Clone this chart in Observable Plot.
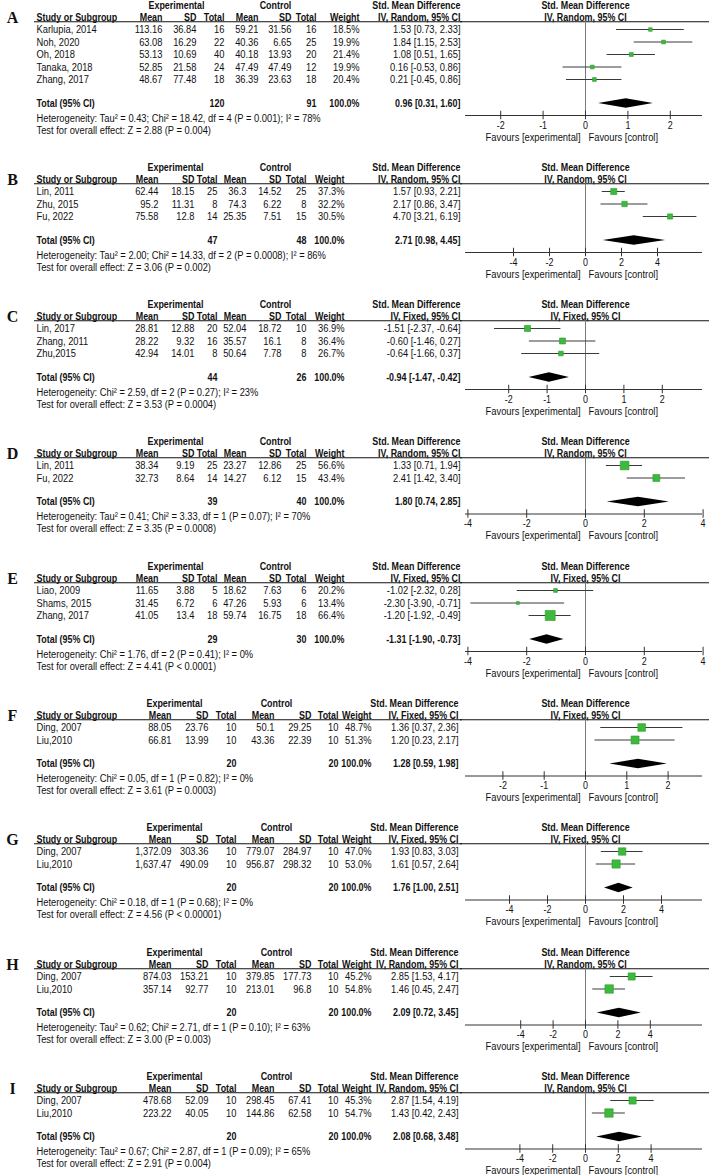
<!DOCTYPE html>
<html><head><meta charset="utf-8">
<script src="https://cdn.jsdelivr.net/npm/d3@7"></script>
<script src="https://cdn.jsdelivr.net/npm/@observablehq/plot@0.6"></script>
<style>
html,body{margin:0;padding:0;background:#fff;}
#page{position:relative;width:709px;height:1175px;overflow:hidden;background:#fff;}
.panel{position:absolute;left:0;width:709px;}
.panel svg{position:absolute;top:0;overflow:visible;}
</style></head><body><div id="page"></div>
<script>
// ---------------- DATA ----------------
const panelLetters = ["A","B","C","D","E","F","G","H","I"];
const panelModel = ["Random","Random","Fixed","Random","Fixed","Fixed","Fixed","Random","Random"];
const panelExpTotal = [120,47,44,39,29,20,20,20,20];
const panelCtlTotal = [91,48,26,40,30,20,20,20,20];
const panelEst = [0.96,2.71,-0.94,1.80,-1.31,1.28,1.76,2.09,2.08];
const panelLo  = [0.31,0.98,-1.47,0.74,-1.90,0.59,1.00,0.72,0.68];
const panelHi  = [1.60,4.45,-0.42,2.85,-0.73,1.98,2.51,3.45,3.48];
const panelHeterogeneity = [
  "Heterogeneity: Tau² = 0.43; Chi² = 18.42, df = 4 (P = 0.001); I² = 78%",
  "Heterogeneity: Tau² = 2.00; Chi² = 14.33, df = 2 (P = 0.0008); I² = 86%",
  "Heterogeneity: Chi² = 2.59, df = 2 (P = 0.27); I² = 23%",
  "Heterogeneity: Tau² = 0.41; Chi² = 3.33, df = 1 (P = 0.07); I² = 70%",
  "Heterogeneity: Chi² = 1.76, df = 2 (P = 0.41); I² = 0%",
  "Heterogeneity: Chi² = 0.05, df = 1 (P = 0.82); I² = 0%",
  "Heterogeneity: Chi² = 0.18, df = 1 (P = 0.68); I² = 0%",
  "Heterogeneity: Tau² = 0.62; Chi² = 2.71, df = 1 (P = 0.10); I² = 63%",
  "Heterogeneity: Tau² = 0.67; Chi² = 2.87, df = 1 (P = 0.09); I² = 65%"
];
const panelTest = [
  "Test for overall effect: Z = 2.88 (P = 0.004)",
  "Test for overall effect: Z = 3.06 (P = 0.002)",
  "Test for overall effect: Z = 3.53 (P = 0.0004)",
  "Test for overall effect: Z = 3.35 (P = 0.0008)",
  "Test for overall effect: Z = 4.41 (P < 0.0001)",
  "Test for overall effect: Z = 3.61 (P = 0.0003)",
  "Test for overall effect: Z = 4.56 (P < 0.00001)",
  "Test for overall effect: Z = 3.00 (P = 0.003)",
  "Test for overall effect: Z = 2.91 (P = 0.004)"
];
const ticksUnit1 = [-2,-1,0,1,2];
const ticksUnit2 = [-4,-2,0,2,4];
const panelTicks = [ticksUnit1,ticksUnit2,ticksUnit1,ticksUnit2,ticksUnit2,ticksUnit1,ticksUnit2,ticksUnit2,ticksUnit2];

const studyPanel = ["A","A","A","A","A","B","B","B","C","C","C","D","D","E","E","E","F","F","G","G","H","H","I","I"];
const studyName = ["Karlupia, 2014","Noh, 2020","Oh, 2018","Tanaka, 2018","Zhang, 2017",
  "Lin, 2011","Zhu, 2015","Fu, 2022",
  "Lin, 2017","Zhang, 2011","Zhu,2015",
  "Lin, 2011","Fu, 2022",
  "Liao, 2009","Shams, 2015","Zhang, 2017",
  "Ding, 2007","Liu,2010",
  "Ding, 2007","Liu,2010",
  "Ding, 2007","Liu,2010",
  "Ding, 2007","Liu,2010"];
const expMean = [113.16,63.08,53.13,52.85,48.67, 62.44,95.2,75.58, 28.81,28.22,42.94, 38.34,32.73, 11.65,31.45,41.05, 88.05,66.81, 1372.09,1637.47, 874.03,357.14, 478.68,223.22];
const expSD   = [36.84,16.29,10.69,21.58,77.48, 18.15,11.31,12.8, 12.88,9.32,14.01, 9.19,8.64, 3.88,6.72,13.4, 23.76,13.99, 303.36,490.09, 153.21,92.77, 52.09,40.05];
const expN    = [16,22,40,24,18, 25,8,14, 20,16,8, 25,14, 5,6,18, 10,10, 10,10, 10,10, 10,10];
const ctlMean = [59.21,40.36,40.18,47.49,36.39, 36.3,74.3,25.35, 52.04,35.57,50.64, 23.27,14.27, 18.62,47.26,59.74, 50.1,43.36, 779.07,956.87, 379.85,213.01, 298.45,144.86];
const ctlSD   = [31.56,6.65,13.93,47.49,23.63, 14.52,6.22,7.51, 18.72,16.1,7.78, 12.86,6.12, 7.63,5.93,16.75, 29.25,22.39, 284.97,298.32, 177.73,96.8, 67.41,62.58];
const ctlN    = [16,25,20,12,18, 25,8,15, 10,8,8, 25,15, 6,6,18, 10,10, 10,10, 10,10, 10,10];
const weight  = [18.5,19.9,21.4,19.9,20.4, 37.3,32.2,30.5, 36.9,36.4,26.7, 56.6,43.4, 20.2,13.4,66.4, 48.7,51.3, 47.0,53.0, 45.2,54.8, 45.3,54.7];
const smd     = [1.53,1.84,1.08,0.16,0.21, 1.57,2.17,4.70, -1.51,-0.60,-0.64, 1.33,2.41, -1.02,-2.30,-1.20, 1.36,1.20, 1.93,1.61, 2.85,1.46, 2.87,1.43];
const smdLo   = [0.73,1.15,0.51,-0.53,-0.45, 0.93,0.86,3.21, -2.37,-1.46,-1.66, 0.71,1.42, -2.32,-3.90,-1.92, 0.37,0.23, 0.83,0.57, 1.53,0.45, 1.54,0.42];
const smdHi   = [2.33,2.53,1.65,0.86,0.86, 2.21,3.47,6.19, -0.64,0.27,0.37, 1.94,3.40, 0.28,-0.71,-0.49, 2.36,2.17, 3.03,2.64, 4.17,2.47, 4.19,2.43];

// ---------------- LAYOUT / STYLE ----------------
const FONT = '"Liberation Sans Narrow","Arial Narrow","Liberation Sans",Arial,sans-serif';
const SERIF = '"Liberation Serif","Times New Roman",serif';
const NARROW = 0.85; // horizontal glyph compression to mimic Arial Narrow
const colLayouts = {
  a: {study:36, eMean:162, eSD:196, eTot:224, cMean:258, cSD:291, cTot:316, weight:359, ci:460, expHdr:176, ctlHdr:275},
  b: {study:36, eMean:158, eSD:194, eTot:217, cMean:246, cSD:281, cTot:306, weight:344, ci:460, expHdr:175, ctlHdr:275},
  w: {study:36, eMean:171, eSD:208, eTot:236, cMean:274, cSD:311, cTot:338, weight:371, ci:458, expHdr:174, ctlHdr:276}
};
const panelLayout = ["a","b","b","b","b","w","w","w","w"];
const panelPxPerUnit = [42.4,18.0,38.4,29.4,29.4,41.3,19.0,16.2,16.4];
const zeroX = 585, axisLeft = 465, axisRight = 702, forestLeft = 460, forestWidth = 249;
const rowPx = 12.5;
const green = "#3dba3d";
const boldSize = 10.5;

const fmt = d3.format(",");
const fmtCI = (e, l, h) => `${e.toFixed(2)} [${l.toFixed(2)}, ${h.toFixed(2)}]`;
const fmtW = w => w.toFixed(1) + "%";

const studies = studyName.map((name, i) => ({
  panel: studyPanel[i], name, eM: expMean[i], eS: expSD[i], eN: expN[i],
  cM: ctlMean[i], cS: ctlSD[i], cN: ctlN[i], w: weight[i],
  est: smd[i], lo: smdLo[i], hi: smdHi[i]
}));

function narrowText(svg) {
  svg.querySelectorAll("text").forEach(t => {
    const g = t.closest("g[font-family]");
    if (g && /Serif/.test(g.getAttribute("font-family"))) return;
    const tr = t.getAttribute("transform") || "";
    t.setAttribute("transform", tr + ` scale(${NARROW},1)`);
  });
}

const page = document.getElementById("page");
let y0 = 5;

panelLetters.forEach((L, p) => {
  const rows = studies.filter(s => s.panel === L).map((s, i) => ({...s, row: i}));
  const n = rows.length;
  const cols = colLayouts[panelLayout[p]];
  const tot = n - 1 + 1.92;
  const Y = {h1: -1.92, h2: -0.96, line: -0.62, total: tot, axis: tot + 0.96,
             het: tot + 1.16, tick: tot + 1.76, test: tot + 2.12, fav: tot + 2.68};
  const topPad = 12;
  const H = 104 + rowPx * (n - 1);
  const yTop = Y.h1 - topPad / rowPx;
  const yScale = {domain: [yTop, yTop + H / rowPx], range: [0, H], axis: null};

  const div = document.createElement("div");
  div.className = "panel";
  div.style.top = (y0 - topPad) + "px";
  div.style.height = H + "px";
  page.appendChild(div);

  const style = {fontFamily: FONT, fontSize: "11px", color: "#111", background: "transparent", overflow: "visible"};
  const bold = {fontWeight: "bold", fontSize: boldSize};
  const txt = (data, opts) => Plot.text(data, {text: d => d, ...opts});
  const col = (key, fn, extra = {}) => Plot.text(rows, {x: () => cols[key], y: "row", text: fn, textAnchor: "end", ...extra});
  const method = `IV, ${panelModel[p]}, 95% CI`;

  // ---- table part ----
  const table = Plot.plot({
    width: forestLeft + 2, height: H, margin: 0,
    x: {type: "identity", axis: null},
    y: yScale,
    style,
    marks: [
      txt([L], {x: () => 12, y: () => Y.h2, fontFamily: SERIF, fontWeight: "bold", fontSize: 16}),
      txt(["Experimental"], {x: () => cols.expHdr, y: () => Y.h1, ...bold}),
      txt(["Control"], {x: () => cols.ctlHdr, y: () => Y.h1, ...bold}),
      txt(["Std. Mean Difference"], {x: () => cols.ci, y: () => Y.h1, textAnchor: "end", ...bold}),
      txt(["Study or Subgroup"], {x: () => cols.study, y: () => Y.h2, textAnchor: "start", ...bold}),
      txt(["Mean"], {x: () => cols.eMean, y: () => Y.h2, textAnchor: "end", ...bold}),
      txt(["SD"], {x: () => cols.eSD, y: () => Y.h2, textAnchor: "end", ...bold}),
      txt(["Total"], {x: () => cols.eTot, y: () => Y.h2, textAnchor: "end", ...bold}),
      txt(["Mean"], {x: () => cols.cMean, y: () => Y.h2, textAnchor: "end", ...bold}),
      txt(["SD"], {x: () => cols.cSD, y: () => Y.h2, textAnchor: "end", ...bold}),
      txt(["Total"], {x: () => cols.cTot, y: () => Y.h2, textAnchor: "end", ...bold}),
      txt(["Weight"], {x: () => cols.weight, y: () => Y.h2, textAnchor: "end", ...bold}),
      txt([method], {x: () => cols.ci, y: () => Y.h2, textAnchor: "end", ...bold}),
      Plot.ruleY([Y.line], {x1: cols.study - 2, x2: forestLeft + 2, stroke: "#111", strokeWidth: 1}),
      Plot.text(rows, {x: () => cols.study, y: "row", text: "name", textAnchor: "start"}),
      col("eMean", d => fmt(d.eM)),
      col("eSD", d => fmt(d.eS)),
      col("eTot", d => String(d.eN)),
      col("cMean", d => fmt(d.cM)),
      col("cSD", d => fmt(d.cS)),
      col("cTot", d => String(d.cN)),
      col("weight", d => fmtW(d.w)),
      col("ci", d => fmtCI(d.est, d.lo, d.hi)),
      txt(["Total (95% CI)"], {x: () => cols.study, y: () => Y.total, textAnchor: "start", ...bold}),
      txt([String(panelExpTotal[p])], {x: () => cols.eTot, y: () => Y.total, textAnchor: "end", ...bold}),
      txt([String(panelCtlTotal[p])], {x: () => cols.cTot, y: () => Y.total, textAnchor: "end", ...bold}),
      txt(["100.0%"], {x: () => cols.weight, y: () => Y.total, textAnchor: "end", ...bold}),
      txt([fmtCI(panelEst[p], panelLo[p], panelHi[p])], {x: () => cols.ci, y: () => Y.total, textAnchor: "end", ...bold}),
      txt([panelHeterogeneity[p]], {x: () => cols.study, y: () => Y.het, textAnchor: "start"}),
      txt([panelTest[p]], {x: () => cols.study, y: () => Y.test, textAnchor: "start"})
    ]
  });
  narrowText(table);
  table.style.left = "0px";
  div.appendChild(table);

  // ---- forest part ----
  const ppu = panelPxPerUnit[p];
  const xDom = [(axisLeft - zeroX) / ppu, (axisRight - zeroX) / ppu];
  const ticks = panelTicks[p];
  const diamond = [
    {x: panelLo[p], y1: Y.total, y2: Y.total},
    {x: panelEst[p], y1: Y.total - 0.38, y2: Y.total + 0.38},
    {x: panelHi[p], y1: Y.total, y2: Y.total}
  ];
  const forest = Plot.plot({
    width: forestWidth, height: H, margin: 0,
    x: {domain: xDom, range: [axisLeft - forestLeft, axisRight - forestLeft], axis: null},
    y: yScale,
    r: {type: "linear", domain: [0, 100], range: [0.6, 8.2]},
    style,
    marks: [
      txt(["Std. Mean Difference"], {x: () => 0, y: () => Y.h1, ...bold}),
      txt([method], {x: () => 0, y: () => Y.h2, ...bold}),
      Plot.ruleY([Y.line], {stroke: "#111", strokeWidth: 1}),
      Plot.ruleX([0], {y1: Y.line, y2: Y.axis, stroke: "#7a7a7a", strokeWidth: 1}),
      Plot.ruleY(rows, {y: "row", x1: "lo", x2: "hi", stroke: "#3a3a3a", strokeWidth: 1}),
      Plot.dot(rows, {x: "est", y: "row", r: "w", symbol: "square", fill: green, stroke: "#2c9c2c", strokeWidth: 0.6}),
      Plot.areaY(diamond, {x: "x", y1: "y1", y2: "y2", fill: "#000", curve: "linear"}),
      Plot.ruleY([Y.axis], {x1: xDom[0], x2: xDom[1], stroke: "#333", strokeWidth: 1}),
      Plot.ruleX(ticks, {x: d => d, y1: Y.axis - 0.34, y2: Y.axis + 0.34, stroke: "#333", strokeWidth: 1}),
      Plot.text(ticks, {x: d => d, y: () => Y.tick, text: d => String(d), fontSize: 10.5}),
      txt(["Favours [experimental]"], {x: () => 0, y: () => Y.fav, textAnchor: "end", dx: -5}),
      txt(["Favours [control]"], {x: () => 0, y: () => Y.fav, textAnchor: "start", dx: 3})
    ]
  });
  narrowText(forest);
  forest.style.left = forestLeft + "px";
  div.appendChild(forest);

  y0 += 99.5 + rowPx * n;
});
</script>
</body></html>
